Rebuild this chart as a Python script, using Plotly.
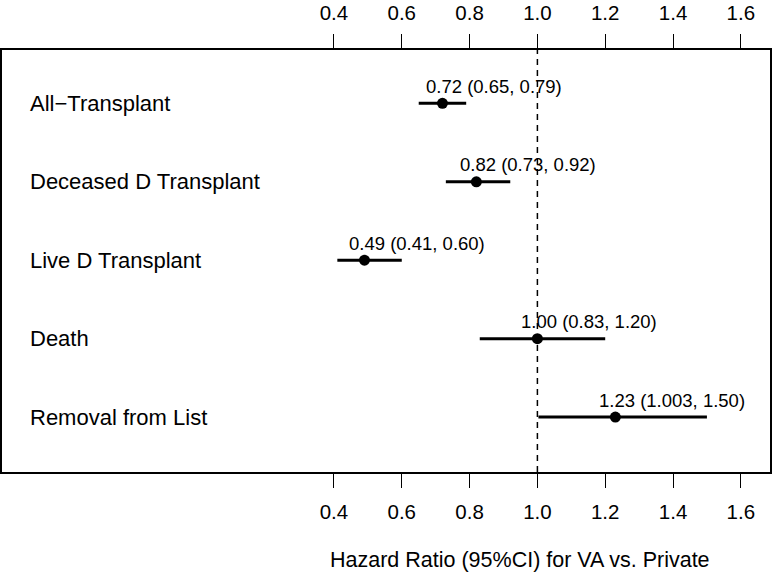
import plotly.graph_objects as go

# ---- data ----
outcomes = ["All\u2212Transplant", "Deceased D Transplant", "Live D Transplant",
            "Death", "Removal from List"]
hr = [0.72, 0.82, 0.49, 1.00, 1.23]
ci_low = [0.65, 0.73, 0.41, 0.83, 1.003]
ci_high = [0.79, 0.92, 0.60, 1.20, 1.50]
hr_labels = ["0.72 (0.65, 0.79)", "0.82 (0.73, 0.92)", "0.49 (0.41, 0.60)",
             "1.00 (0.83, 1.20)", "1.23 (1.003, 1.50)"]
tick_vals = [0.4, 0.6, 0.8, 1.0, 1.2, 1.4, 1.6]
tick_text = ["0.4", "0.6", "0.8", "1.0", "1.2", "1.4", "1.6"]
x_title = "Hazard Ratio (95%CI) for VA vs. Private"

# row positions (top row first)
n = len(outcomes)
ypos = [n - i for i in range(n)]

FONT = "Liberation Sans, Arial, Helvetica, sans-serif"
XR = [-0.579, 1.686]
YR = [0.30, 5.68]

fig = go.Figure()

fig.add_trace(go.Scatter(
    x=hr, y=ypos, mode="markers",
    marker=dict(color="black", size=11),
    error_x=dict(type="data", symmetric=False,
                 array=[hi - h for h, hi in zip(hr, ci_high)],
                 arrayminus=[h - lo for h, lo in zip(hr, ci_low)],
                 color="black", thickness=3, width=0),
    showlegend=False, hoverinfo="skip",
))
# invisible trace to anchor top axis
fig.add_trace(go.Scatter(x=[tick_vals[0]], y=[ypos[0]], xaxis="x2", mode="markers",
                         marker=dict(opacity=0), showlegend=False, hoverinfo="skip"))

# reference line at HR = 1
fig.add_shape(type="line", xref="x", yref="paper", x0=1.0, x1=1.0, y0=0, y1=1,
              line=dict(color="black", width=1.5, dash="6px,5px"))

# outcome labels
for lab, y in zip(outcomes, ypos):
    fig.add_annotation(x=-0.502, y=y, xref="x", yref="y", text=lab, showarrow=False,
                       xanchor="left", yanchor="middle",
                       font=dict(family=FONT, size=22, color="black"))

# estimate labels
for lab, h, y in zip(hr_labels, hr, ypos):
    fig.add_annotation(x=h - 0.053, y=y, xref="x", yref="y", text=lab, showarrow=False,
                       xanchor="left", yanchor="middle", yshift=17,
                       font=dict(family=FONT, size=18.5, color="black"))

# axis title
fig.add_annotation(x=0.95, y=-0.2085, xref="x", yref="paper", text=x_title,
                   showarrow=False, xanchor="center", yanchor="middle",
                   font=dict(family=FONT, size=21.5, color="black"))

axis_common = dict(range=XR, tickmode="array", tickvals=tick_vals, ticktext=tick_text,
                   ticks="outside", ticklen=14, tickwidth=1.2, tickcolor="black",
                   showgrid=False, zeroline=False, showline=True, linecolor="black",
                   linewidth=1.5, automargin=False,
                   tickfont=dict(family=FONT, size=20.5, color="black"))

fig.update_layout(
    width=773, height=574,
    margin=dict(l=2, r=3, t=50, b=102),
    plot_bgcolor="white", paper_bgcolor="white",
    xaxis=dict(**axis_common, side="bottom", ticklabelstandoff=7),
    xaxis2=dict(**axis_common, side="top", overlaying="x", anchor="y",
                matches="x", ticklabelstandoff=6),
    yaxis=dict(range=YR, showgrid=False, zeroline=False, showticklabels=False,
               ticks="", showline=True, mirror=True, linecolor="black", linewidth=1.5,
               automargin=False),
)

fig.write_html("out.html", config={"displayModeBar": False},
               post_script="document.body.style.margin='0';")
